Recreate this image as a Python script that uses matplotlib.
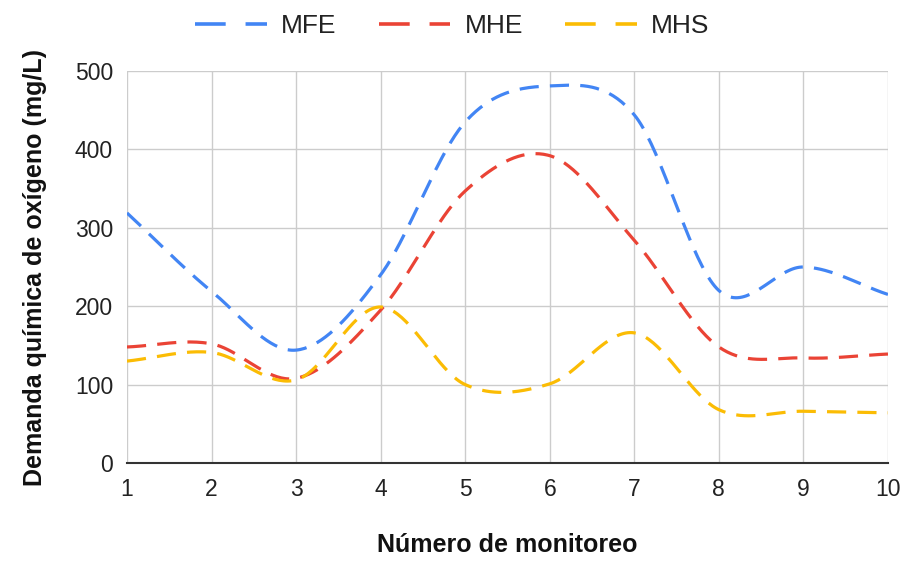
import numpy as np
import matplotlib
matplotlib.use("Agg")
import matplotlib.pyplot as plt
from matplotlib.lines import Line2D

plt.rcParams['font.family'] = ['Liberation Sans', 'DejaVu Sans']

monitoreo = [1, 2, 3, 4, 5, 6, 7, 8, 9, 10]
mfe = [319, 219, 144, 240, 435, 481, 444, 220, 250, 215]
mhe = [148, 152, 108, 195, 347, 392, 284, 148, 134, 139]
mhs = [130, 141, 106, 199, 100, 101, 166, 68, 66, 64]

series = [("MFE", mfe, "#4285F4"), ("MHE", mhe, "#EA4335"), ("MHS", mhs, "#FBBC04")]


def smooth(x, y, n=40):
    x = np.asarray(x, float)
    y = np.asarray(y, float)
    m = np.zeros_like(y)
    m[1:-1] = (y[2:] - y[:-2]) / (x[2:] - x[:-2])
    m[0] = (y[1] - y[0]) / (x[1] - x[0])
    m[-1] = (y[-1] - y[-2]) / (x[-1] - x[-2])
    xs, ys = [], []
    for i in range(len(x) - 1):
        h = x[i + 1] - x[i]
        t = np.linspace(0, 1, n, endpoint=(i == len(x) - 2))
        h00 = 2 * t**3 - 3 * t**2 + 1
        h10 = t**3 - 2 * t**2 + t
        h01 = -2 * t**3 + 3 * t**2
        h11 = t**3 - t**2
        xs.append(x[i] + t * h)
        ys.append(h00 * y[i] + h10 * h * m[i] + h01 * y[i + 1] + h11 * h * m[i + 1])
    return np.concatenate(xs), np.concatenate(ys)


fig = plt.figure(figsize=(9.05, 5.61), dpi=100)
ax = fig.add_axes([0.1403, 0.1747, 0.8409, 0.6987])

handles = []
for name, vals, col in series:
    xs, ys = smooth(monitoreo, vals)
    ax.plot(xs, ys, color=col, lw=2.3, dashes=(6, 3.5), dash_capstyle='butt')
    handles.append(Line2D([], [], color=col, lw=2.6, dashes=(8.5, 5.5), dash_capstyle='butt', label=name))

ax.set_xlim(1, 10)
ax.set_ylim(0, 500)
ax.set_xticks(monitoreo)
ax.set_yticks([0, 100, 200, 300, 400, 500])
ax.grid(True, color="#cccccc", lw=1)
ax.set_axisbelow(True)
for s in ['top', 'right', 'left']:
    ax.spines[s].set_visible(False)
ax.spines['bottom'].set_color('#333333')
ax.spines['bottom'].set_linewidth(1.5)
ax.tick_params(axis='both', length=0, labelsize=16.5, colors='#222222')
ax.tick_params(axis='x', pad=11)
ax.tick_params(axis='y', pad=10)

ax.set_xlabel("Número de monitoreo", fontsize=18, fontweight='bold', labelpad=23, color='#111111')
ax.set_ylabel("Demanda química de oxígeno (mg/L)", fontsize=18, fontweight='bold', labelpad=20, color='#111111')

leg = fig.legend(handles=handles, loc='center', bbox_to_anchor=(0.5, 0.953), ncol=3, frameon=False,
                 fontsize=19, handlelength=2.7, columnspacing=1.6, handletextpad=0.55)
for t in leg.get_texts():
    t.set_color('#222222')

fig.savefig("out.png", dpi=100)
